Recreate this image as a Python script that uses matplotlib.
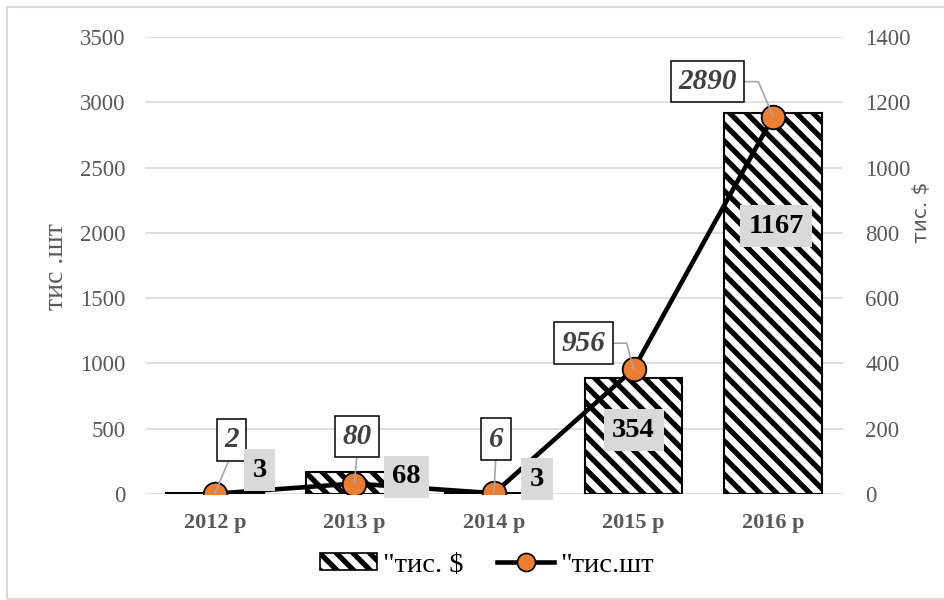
import matplotlib.pyplot as plt
from matplotlib.patches import Rectangle
from matplotlib.lines import Line2D

# data
years = ['2012 р', '2013 р', '2014 р', '2015 р', '2016 р']
usd = [3, 68, 3, 354, 1167]        # тис. $ (bars, right axis)
pcs = [2, 80, 6, 956, 2890]        # тис.шт (line, left axis)

plt.rcParams['hatch.linewidth'] = 3.8
plt.rcParams['hatch.color'] = 'black'
serif = 'Liberation Serif'
grey = '#595959'

fig = plt.figure(figsize=(9.45, 6), dpi=100)
ax = fig.add_axes([145 / 945, 106 / 600, 698 / 945, 457 / 600])
ax2 = ax.twinx()

x = list(range(len(years)))

# bars on the secondary axis, drawn underneath
ax2.bar(x, usd, width=0.7, color='white', edgecolor='black', linewidth=1.5,
        hatch='\\\\', zorder=2)
ax2.set_ylim(0, 1400)
ax2.set_yticks(range(0, 1401, 200))
ax2.grid(axis='y', color='#d9d9d9', linewidth=1.2, zorder=0)
ax2.set_axisbelow(True)

# line on the primary axis, drawn on top
ax.set_zorder(ax2.get_zorder() + 1)
ax.patch.set_visible(False)
ax.plot(x, pcs, color='black', linewidth=3.3, marker='o', markersize=17,
        markerfacecolor='#ed7d31', markeredgecolor='black', markeredgewidth=1.3,
        zorder=3)
ax.set_ylim(0, 3500)
ax.set_yticks(range(0, 3501, 500))
ax.set_xlim(-0.5, 4.5)
ax.set_xticks(x)
ax.set_xticklabels(years)

for a in (ax, ax2):
    for s in a.spines.values():
        s.set_visible(False)
    a.tick_params(length=0, labelcolor=grey)
ax.tick_params(axis='y', pad=14, labelsize=16.5)
ax2.tick_params(axis='y', pad=16, labelsize=16.5)
ax.tick_params(axis='x', pad=14)
for lab in ax.get_yticklabels() + ax2.get_yticklabels():
    lab.set_fontfamily(serif)
for lab in ax.get_xticklabels():
    lab.set_fontfamily(serif)
    lab.set_fontweight('bold')
    lab.set_fontsize(16)

# line labels (boxed, italic)
line_off = [(17, 54, None), (3, 47, None), (2, 54, None),
            (-50, 26, 'angle,angleA=0,angleB=105,rad=0'),
            (-66, 35, 'angle,angleA=0,angleB=113,rad=0')]
for i, (dx, dy, cs) in enumerate(line_off):
    ap = dict(arrowstyle='-', color='#a6a6a6', lw=1.2, shrinkA=0, shrinkB=0)
    if cs:
        ap['connectionstyle'] = cs
        ap['relpos'] = (1, 0.5)
    else:
        ap['relpos'] = (0.5, 0)
    ax.annotate(str(pcs[i]), (i, pcs[i]), xytext=(dx, dy),
                textcoords='offset pixels', ha='center', va='center',
                fontsize=21, fontfamily=serif, fontweight='bold', style='italic',
                color='#404040', zorder=5, arrowprops=ap,
                bbox=dict(boxstyle='square,pad=0.25', fc='white', ec='black', lw=1.1))

# bar labels (grey boxes)
bar_off = [(45, 23), (52, -5), (43, 14), (0, -52), (3, -113)]
for i, (dx, dy) in enumerate(bar_off):
    ax.annotate(str(usd[i]), (i, usd[i]), xycoords=ax2.transData, xytext=(dx, dy),
                textcoords='offset pixels', ha='center', va='center',
                fontsize=20.5, fontfamily=serif, fontweight='bold', color='black',
                zorder=6,
                bbox=dict(boxstyle='square,pad=0.3', fc='#d9d9d9', ec='none'))

# axis titles
fig.text(57 / 945, 1 - 267 / 600, 'тис .шт', rotation=90, ha='center', va='center',
         fontsize=20, fontfamily=serif, color=grey)
fig.text(922 / 945, 1 - 212 / 600, 'тис. $', rotation=90, ha='center', va='center',
         fontsize=14.5, fontfamily='DejaVu Sans', color=grey)

# legend
h_bar = Rectangle((0, 0), 1, 1, fc='white', ec='black', lw=1.2, hatch='\\\\')
h_line = Line2D([], [], color='black', linewidth=3.3, marker='o', markersize=13,
                markerfacecolor='#ed7d31', markeredgecolor='black', markeredgewidth=1.2)
fig.legend([h_bar, h_line], ['"тис. $', '"тис.шт'], loc='center',
           bbox_to_anchor=(0.515, 1 - 565 / 600), ncol=2, frameon=False,
           prop={'family': serif, 'size': 20.5}, handlelength=2.0, handleheight=0.55,
           columnspacing=1.2, handletextpad=0.2)

# outer border
fig.patches.append(Rectangle((7 / 945, 1 / 600), 1.0, 1 - 8 / 600,
                             transform=fig.transFigure, fill=False,
                             ec='#d9d9d9', lw=1.5))

fig.savefig('out.png', dpi=100)
